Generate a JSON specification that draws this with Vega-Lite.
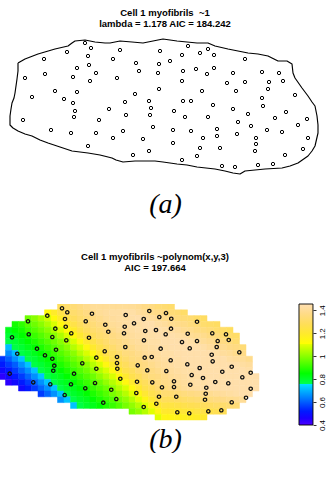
{
  "$schema": "https://vega.github.io/schema/vega-lite/v6.json",
  "padding": {"left": 0, "right": 0, "top": 7, "bottom": 0},
  "spacing": 34,
  "config": {
    "view": {"stroke": null},
    "font": "Liberation Sans",
    "title": {"font": "Liberation Sans", "fontSize": 9.5, "fontWeight": "bold", "lineHeight": 11, "color": "#000000", "anchor": "middle", "frame": "group"},
    "axis": {"grid": false}
  },
  "datasets": {
    "outline": [
      {"i":1,"x":8,"y":118},{"i":2,"x":15,"y":122},{"i":3,"x":28,"y":127},{"i":4,"x":45,"y":132},{"i":5,"x":58,"y":135},{"i":6,"x":62,"y":138},{"i":7,"x":65,"y":140},{"i":8,"x":75,"y":141},{"i":9,"x":85,"y":139},{"i":10,"x":95,"y":138},{"i":11,"x":100,"y":138},{"i":12,"x":110,"y":140},{"i":13,"x":122,"y":139},{"i":14,"x":133,"y":138},{"i":15,"x":143,"y":140},{"i":16,"x":153,"y":142},{"i":17,"x":160,"y":141},{"i":18,"x":167,"y":140},{"i":19,"x":177,"y":139},{"i":20,"x":187,"y":138},{"i":21,"x":198,"y":138},{"i":22,"x":205,"y":135},{"i":23,"x":218,"y":132},{"i":24,"x":228,"y":130},{"i":25,"x":238,"y":128},{"i":26,"x":248,"y":127},{"i":27,"x":258,"y":125},{"i":28,"x":268,"y":120},{"i":29,"x":277,"y":120},{"i":30,"x":282,"y":117},{"i":31,"x":283,"y":108},{"i":32,"x":285,"y":103},{"i":33,"x":292,"y":93},{"i":34,"x":298,"y":85},{"i":35,"x":302,"y":79},{"i":36,"x":305,"y":75},{"i":37,"x":307,"y":65},{"i":38,"x":308,"y":56},{"i":39,"x":308,"y":48},{"i":40,"x":305,"y":35},{"i":41,"x":302,"y":30},{"i":42,"x":298,"y":25},{"i":43,"x":288,"y":18},{"i":44,"x":280,"y":15},{"i":45,"x":272,"y":13},{"i":46,"x":255,"y":12},{"i":47,"x":245,"y":11},{"i":48,"x":235,"y":10},{"i":49,"x":230,"y":7},{"i":50,"x":223,"y":8},{"i":51,"x":215,"y":10},{"i":52,"x":205,"y":12},{"i":53,"x":196,"y":13},{"i":54,"x":187,"y":14},{"i":55,"x":177,"y":16},{"i":56,"x":167,"y":17},{"i":57,"x":160,"y":18},{"i":58,"x":153,"y":19},{"i":59,"x":145,"y":20},{"i":60,"x":137,"y":20},{"i":61,"x":125,"y":20},{"i":62,"x":113,"y":19},{"i":63,"x":106,"y":21},{"i":64,"x":102,"y":23},{"i":65,"x":90,"y":26},{"i":66,"x":78,"y":28},{"i":67,"x":70,"y":29},{"i":68,"x":62,"y":30},{"i":69,"x":50,"y":34},{"i":70,"x":38,"y":38},{"i":71,"x":30,"y":41},{"i":72,"x":22,"y":45},{"i":73,"x":15,"y":47},{"i":74,"x":8,"y":50},{"i":75,"x":3,"y":53},{"i":76,"x":0,"y":56},{"i":77,"x":0,"y":65},{"i":78,"x":1,"y":72},{"i":79,"x":2,"y":78},{"i":80,"x":4,"y":83},{"i":81,"x":5,"y":88},{"i":82,"x":6,"y":95},{"i":83,"x":7,"y":102},{"i":84,"x":8,"y":110},{"i":85,"x":8,"y":115},{"i":86,"x":8,"y":118}
    ],
    "fibrils_a": [
      {"x":75,"y":138},{"x":81,"y":133},{"x":57,"y":129},{"x":110,"y":131},{"x":150,"y":130},{"x":178,"y":135},{"x":198,"y":132},{"x":190,"y":128},{"x":204,"y":126},{"x":172,"y":126},{"x":78,"y":125},{"x":34,"y":122},{"x":103,"y":122},{"x":235,"y":122},{"x":160,"y":120},{"x":126,"y":118},{"x":149,"y":117},{"x":79,"y":116},{"x":67,"y":113},{"x":204,"y":113},{"x":186,"y":112},{"x":173,"y":110},{"x":129,"y":110},{"x":148,"y":108},{"x":35,"y":107},{"x":86,"y":108},{"x":197,"y":107},{"x":223,"y":108},{"x":252,"y":109},{"x":269,"y":108},{"x":15,"y":103},{"x":63,"y":104},{"x":107,"y":103},{"x":80,"y":100},{"x":172,"y":100},{"x":235,"y":99},{"x":217,"y":98},{"x":259,"y":99},{"x":273,"y":100},{"x":149,"y":92},{"x":45,"y":90},{"x":67,"y":89},{"x":226,"y":90},{"x":258,"y":92},{"x":125,"y":87},{"x":192,"y":90},{"x":22,"y":84},{"x":54,"y":82},{"x":285,"y":86},{"x":252,"y":83},{"x":63,"y":78},{"x":115,"y":79},{"x":139,"y":80},{"x":173,"y":80},{"x":181,"y":80},{"x":203,"y":76},{"x":253,"y":75},{"x":141,"y":73},{"x":99,"y":72},{"x":65,"y":70},{"x":223,"y":72},{"x":164,"y":70},{"x":276,"y":69},{"x":64,"y":64},{"x":116,"y":66},{"x":140,"y":66},{"x":238,"y":67},{"x":175,"y":64},{"x":198,"y":64},{"x":265,"y":63},{"x":13,"y":61},{"x":89,"y":61},{"x":297,"y":62},{"x":228,"y":59},{"x":288,"y":56},{"x":143,"y":54},{"x":241,"y":55},{"x":163,"y":51},{"x":181,"y":50},{"x":207,"y":52},{"x":41,"y":51},{"x":61,"y":48},{"x":86,"y":48},{"x":113,"y":50},{"x":257,"y":51},{"x":272,"y":49},{"x":207,"y":45},{"x":193,"y":43},{"x":103,"y":43},{"x":133,"y":42},{"x":298,"y":43},{"x":246,"y":43},{"x":163,"y":38},{"x":246,"y":37},{"x":78,"y":35},{"x":190,"y":33},{"x":210,"y":33},{"x":139,"y":30},{"x":245,"y":30},{"x":293,"y":32},{"x":275,"y":26},{"x":123,"y":26},{"x":187,"y":25},{"x":172,"y":21},{"x":212,"y":15},{"x":225,"y":14},{"x":248,"y":16},{"x":263,"y":17},{"x":227,"y":47}
    ],
    "fibrils_b": [
      {"col":9.77,"row":0.83},{"col":10.58,"row":1.52},{"col":7.51,"row":2.1},{"col":10.23,"row":2.67},{"col":4.54,"row":3.07},{"col":13.42,"row":3.07},{"col":8.74,"row":4.34},{"col":10.34,"row":4.0},{"col":11.2,"row":5.14},{"col":2.08,"row":5.83},{"col":4.65,"row":5.31},{"col":8.28,"row":5.78},{"col":10.43,"row":6.34},{"col":13.92,"row":5.9},{"col":5.92,"row":7.79},{"col":8.85,"row":7.97},{"col":2.89,"row":8.66},{"col":7.15,"row":8.93},{"col":8.28,"row":9.52},{"col":12.89,"row":10.31},{"col":8.58,"row":10.72},{"col":8.43,"row":11.59},{"col":11.62,"row":12.1},{"col":1.72,"row":12.1},{"col":5.35,"row":13.59},{"col":7.97,"row":13.93},{"col":11.15,"row":13.93},{"col":13.35,"row":14.62},{"col":10.18,"row":15.78},
      {"col":14.38,"row":1.76},{"col":19.57,"row":1.98},{"col":23.2,"row":1.29},{"col":25.77,"row":1.64},{"col":26.58,"row":2.62},{"col":24.74,"row":2.33},{"col":22.34,"row":2.67},{"col":16.43,"row":3.66},{"col":19.42,"row":4.0},{"col":20.85,"row":3.41},{"col":16.89,"row":4.86},{"col":19.31,"row":5.14},{"col":22.58,"row":4.74},{"col":24.23,"row":4.57},{"col":26.54,"row":4.34},{"col":25.72,"row":5.31},{"col":22.38,"row":6.34},{"col":19.51,"row":7.5},{"col":24.95,"row":7.79},{"col":16.34,"row":8.24},{"col":26.49,"row":9.79},{"col":15.05,"row":9.34},{"col":18.23,"row":9.22},{"col":22.49,"row":9.34},{"col":23.57,"row":9.22},{"col":18.23,"row":10.26},{"col":18.28,"row":11.24},{"col":21.42,"row":10.66},{"col":15.05,"row":11.24},{"col":22.89,"row":11.52},{"col":25.82,"row":11.64},{"col":18.74,"row":12.97},{"col":14.85,"row":13.71},{"col":21.31,"row":13.48},{"col":23.66,"row":13.59},{"col":27.0,"row":13.41},{"col":25.15,"row":14.45},{"col":27.0,"row":14.4},{"col":17.35,"row":14.86},{"col":21.2,"row":15.43},{"col":24.69,"row":16.07},{"col":27.35,"row":16.07},{"col":18.12,"row":16.47},{"col":16.12,"row":17.1},{"col":24.28,"row":17.28},{"col":22.34,"row":17.84},{"col":27.51,"row":18.76},
      {"col":30.54,"row":3.14},{"col":29.11,"row":5.21},{"col":32.89,"row":5.14},{"col":35.0,"row":5.31},{"col":28.23,"row":6.64},{"col":30.54,"row":6.47},{"col":33.72,"row":6.47},{"col":35.42,"row":6.29},{"col":29.42,"row":7.72},{"col":33.57,"row":7.5},{"col":37.05,"row":8.41},{"col":32.8,"row":8.83},{"col":32.95,"row":9.97},{"col":29.05,"row":10.48},{"col":30.95,"row":11.12},{"col":35.88,"row":10.9},{"col":34.43,"row":11.76},{"col":29.72,"row":12.33},{"col":31.46,"row":12.84},{"col":33.35,"row":13.53},{"col":35.35,"row":13.76},{"col":29.51,"row":14.0},{"col":37.51,"row":12.72},{"col":38.8,"row":11.93},{"col":31.97,"row":14.52},{"col":31.88,"row":15.55},{"col":38.8,"row":14.69},{"col":38.08,"row":16.24},{"col":31.77,"row":16.59},{"col":35.88,"row":17.03},{"col":29.35,"row":18.93},{"col":32.28,"row":18.59},{"col":34.28,"row":18.41}
    ],
    "surface": [
      {"col":9,"row":0,"z":1.29},{"col":10,"row":0,"z":1.32},{"col":11,"row":0,"z":1.34},{"col":12,"row":0,"z":1.36},{"col":13,"row":0,"z":1.38},{"col":14,"row":0,"z":1.4},{"col":15,"row":0,"z":1.4},{"col":16,"row":0,"z":1.4},{"col":17,"row":0,"z":1.4},{"col":18,"row":0,"z":1.4},{"col":19,"row":0,"z":1.4},{"col":20,"row":0,"z":1.4},{"col":21,"row":0,"z":1.39},{"col":22,"row":0,"z":1.37},{"col":23,"row":0,"z":1.36},{"col":24,"row":0,"z":1.34},{"col":25,"row":0,"z":1.33},{"col":26,"row":0,"z":1.32},
      {"col":7,"row":1,"z":1.13},{"col":8,"row":1,"z":1.19},{"col":9,"row":1,"z":1.25},{"col":10,"row":1,"z":1.29},{"col":11,"row":1,"z":1.32},{"col":12,"row":1,"z":1.34},{"col":13,"row":1,"z":1.36},{"col":14,"row":1,"z":1.38},{"col":15,"row":1,"z":1.4},{"col":16,"row":1,"z":1.41},{"col":17,"row":1,"z":1.42},{"col":18,"row":1,"z":1.42},{"col":19,"row":1,"z":1.43},{"col":20,"row":1,"z":1.43},{"col":21,"row":1,"z":1.41},{"col":22,"row":1,"z":1.4},{"col":23,"row":1,"z":1.38},{"col":24,"row":1,"z":1.37},{"col":25,"row":1,"z":1.36},{"col":26,"row":1,"z":1.34},{"col":27,"row":1,"z":1.33},{"col":28,"row":1,"z":1.31},
      {"col":4,"row":2,"z":0.97},{"col":5,"row":2,"z":1.0},{"col":6,"row":2,"z":1.04},{"col":7,"row":2,"z":1.08},{"col":8,"row":2,"z":1.13},{"col":9,"row":2,"z":1.19},{"col":10,"row":2,"z":1.25},{"col":11,"row":2,"z":1.29},{"col":12,"row":2,"z":1.32},{"col":13,"row":2,"z":1.34},{"col":14,"row":2,"z":1.36},{"col":15,"row":2,"z":1.38},{"col":16,"row":2,"z":1.4},{"col":17,"row":2,"z":1.41},{"col":18,"row":2,"z":1.42},{"col":19,"row":2,"z":1.42},{"col":20,"row":2,"z":1.43},{"col":21,"row":2,"z":1.44},{"col":22,"row":2,"z":1.42},{"col":23,"row":2,"z":1.41},{"col":24,"row":2,"z":1.4},{"col":25,"row":2,"z":1.38},{"col":26,"row":2,"z":1.37},{"col":27,"row":2,"z":1.35},{"col":28,"row":2,"z":1.34},{"col":29,"row":2,"z":1.33},{"col":30,"row":2,"z":1.31},{"col":31,"row":2,"z":1.3},
      {"col":2,"row":3,"z":0.87},{"col":3,"row":3,"z":0.9},{"col":4,"row":3,"z":0.94},{"col":5,"row":3,"z":0.97},{"col":6,"row":3,"z":1.0},{"col":7,"row":3,"z":1.04},{"col":8,"row":3,"z":1.09},{"col":9,"row":3,"z":1.13},{"col":10,"row":3,"z":1.19},{"col":11,"row":3,"z":1.25},{"col":12,"row":3,"z":1.29},{"col":13,"row":3,"z":1.32},{"col":14,"row":3,"z":1.34},{"col":15,"row":3,"z":1.36},{"col":16,"row":3,"z":1.38},{"col":17,"row":3,"z":1.4},{"col":18,"row":3,"z":1.41},{"col":19,"row":3,"z":1.42},{"col":20,"row":3,"z":1.43},{"col":21,"row":3,"z":1.43},{"col":22,"row":3,"z":1.44},{"col":23,"row":3,"z":1.44},{"col":24,"row":3,"z":1.42},{"col":25,"row":3,"z":1.41},{"col":26,"row":3,"z":1.39},{"col":27,"row":3,"z":1.38},{"col":28,"row":3,"z":1.37},{"col":29,"row":3,"z":1.35},{"col":30,"row":3,"z":1.34},{"col":31,"row":3,"z":1.32},{"col":32,"row":3,"z":1.31},{"col":33,"row":3,"z":1.3},
      {"col":1,"row":4,"z":0.82},{"col":2,"row":4,"z":0.85},{"col":3,"row":4,"z":0.87},{"col":4,"row":4,"z":0.91},{"col":5,"row":4,"z":0.94},{"col":6,"row":4,"z":0.97},{"col":7,"row":4,"z":1.0},{"col":8,"row":4,"z":1.04},{"col":9,"row":4,"z":1.09},{"col":10,"row":4,"z":1.13},{"col":11,"row":4,"z":1.19},{"col":12,"row":4,"z":1.25},{"col":13,"row":4,"z":1.29},{"col":14,"row":4,"z":1.32},{"col":15,"row":4,"z":1.34},{"col":16,"row":4,"z":1.36},{"col":17,"row":4,"z":1.38},{"col":18,"row":4,"z":1.4},{"col":19,"row":4,"z":1.41},{"col":20,"row":4,"z":1.42},{"col":21,"row":4,"z":1.43},{"col":22,"row":4,"z":1.43},{"col":23,"row":4,"z":1.44},{"col":24,"row":4,"z":1.44},{"col":25,"row":4,"z":1.43},{"col":26,"row":4,"z":1.42},{"col":27,"row":4,"z":1.41},{"col":28,"row":4,"z":1.39},{"col":29,"row":4,"z":1.38},{"col":30,"row":4,"z":1.36},{"col":31,"row":4,"z":1.35},{"col":32,"row":4,"z":1.34},{"col":33,"row":4,"z":1.32},{"col":34,"row":4,"z":1.31},{"col":35,"row":4,"z":1.29},
      {"col":1,"row":5,"z":0.79},{"col":2,"row":5,"z":0.82},{"col":3,"row":5,"z":0.85},{"col":4,"row":5,"z":0.87},{"col":5,"row":5,"z":0.91},{"col":6,"row":5,"z":0.94},{"col":7,"row":5,"z":0.97},{"col":8,"row":5,"z":1.0},{"col":9,"row":5,"z":1.04},{"col":10,"row":5,"z":1.09},{"col":11,"row":5,"z":1.13},{"col":12,"row":5,"z":1.2},{"col":13,"row":5,"z":1.25},{"col":14,"row":5,"z":1.29},{"col":15,"row":5,"z":1.32},{"col":16,"row":5,"z":1.34},{"col":17,"row":5,"z":1.36},{"col":18,"row":5,"z":1.38},{"col":19,"row":5,"z":1.4},{"col":20,"row":5,"z":1.41},{"col":21,"row":5,"z":1.42},{"col":22,"row":5,"z":1.43},{"col":23,"row":5,"z":1.43},{"col":24,"row":5,"z":1.44},{"col":25,"row":5,"z":1.44},{"col":26,"row":5,"z":1.44},{"col":27,"row":5,"z":1.43},{"col":28,"row":5,"z":1.42},{"col":29,"row":5,"z":1.4},{"col":30,"row":5,"z":1.39},{"col":31,"row":5,"z":1.38},{"col":32,"row":5,"z":1.36},{"col":33,"row":5,"z":1.35},{"col":34,"row":5,"z":1.33},{"col":35,"row":5,"z":1.32},{"col":36,"row":5,"z":1.31},
      {"col":1,"row":6,"z":0.77},{"col":2,"row":6,"z":0.79},{"col":3,"row":6,"z":0.82},{"col":4,"row":6,"z":0.85},{"col":5,"row":6,"z":0.88},{"col":6,"row":6,"z":0.91},{"col":7,"row":6,"z":0.94},{"col":8,"row":6,"z":0.97},{"col":9,"row":6,"z":1.0},{"col":10,"row":6,"z":1.04},{"col":11,"row":6,"z":1.09},{"col":12,"row":6,"z":1.14},{"col":13,"row":6,"z":1.2},{"col":14,"row":6,"z":1.25},{"col":15,"row":6,"z":1.29},{"col":16,"row":6,"z":1.32},{"col":17,"row":6,"z":1.35},{"col":18,"row":6,"z":1.36},{"col":19,"row":6,"z":1.38},{"col":20,"row":6,"z":1.4},{"col":21,"row":6,"z":1.41},{"col":22,"row":6,"z":1.42},{"col":23,"row":6,"z":1.43},{"col":24,"row":6,"z":1.43},{"col":25,"row":6,"z":1.44},{"col":26,"row":6,"z":1.44},{"col":27,"row":6,"z":1.44},{"col":28,"row":6,"z":1.44},{"col":29,"row":6,"z":1.43},{"col":30,"row":6,"z":1.42},{"col":31,"row":6,"z":1.4},{"col":32,"row":6,"z":1.39},{"col":33,"row":6,"z":1.37},{"col":34,"row":6,"z":1.36},{"col":35,"row":6,"z":1.35},{"col":36,"row":6,"z":1.33},
      {"col":1,"row":7,"z":0.71},{"col":2,"row":7,"z":0.77},{"col":3,"row":7,"z":0.79},{"col":4,"row":7,"z":0.82},{"col":5,"row":7,"z":0.85},{"col":6,"row":7,"z":0.88},{"col":7,"row":7,"z":0.91},{"col":8,"row":7,"z":0.94},{"col":9,"row":7,"z":0.97},{"col":10,"row":7,"z":1.0},{"col":11,"row":7,"z":1.05},{"col":12,"row":7,"z":1.09},{"col":13,"row":7,"z":1.14},{"col":14,"row":7,"z":1.2},{"col":15,"row":7,"z":1.25},{"col":16,"row":7,"z":1.29},{"col":17,"row":7,"z":1.32},{"col":18,"row":7,"z":1.35},{"col":19,"row":7,"z":1.36},{"col":20,"row":7,"z":1.38},{"col":21,"row":7,"z":1.4},{"col":22,"row":7,"z":1.41},{"col":23,"row":7,"z":1.42},{"col":24,"row":7,"z":1.43},{"col":25,"row":7,"z":1.43},{"col":26,"row":7,"z":1.44},{"col":27,"row":7,"z":1.44},{"col":28,"row":7,"z":1.44},{"col":29,"row":7,"z":1.44},{"col":30,"row":7,"z":1.44},{"col":31,"row":7,"z":1.43},{"col":32,"row":7,"z":1.41},{"col":33,"row":7,"z":1.4},{"col":34,"row":7,"z":1.39},{"col":35,"row":7,"z":1.37},{"col":36,"row":7,"z":1.36},{"col":37,"row":7,"z":1.34},
      {"col":1,"row":8,"z":0.65},{"col":2,"row":8,"z":0.71},{"col":3,"row":8,"z":0.77},{"col":4,"row":8,"z":0.79},{"col":5,"row":8,"z":0.82},{"col":6,"row":8,"z":0.85},{"col":7,"row":8,"z":0.88},{"col":8,"row":8,"z":0.91},{"col":9,"row":8,"z":0.94},{"col":10,"row":8,"z":0.97},{"col":11,"row":8,"z":1.0},{"col":12,"row":8,"z":1.05},{"col":13,"row":8,"z":1.09},{"col":14,"row":8,"z":1.14},{"col":15,"row":8,"z":1.2},{"col":16,"row":8,"z":1.26},{"col":17,"row":8,"z":1.29},{"col":18,"row":8,"z":1.32},{"col":19,"row":8,"z":1.35},{"col":20,"row":8,"z":1.36},{"col":21,"row":8,"z":1.38},{"col":22,"row":8,"z":1.4},{"col":23,"row":8,"z":1.41},{"col":24,"row":8,"z":1.42},{"col":25,"row":8,"z":1.43},{"col":26,"row":8,"z":1.43},{"col":27,"row":8,"z":1.44},{"col":28,"row":8,"z":1.44},{"col":29,"row":8,"z":1.44},{"col":30,"row":8,"z":1.44},{"col":31,"row":8,"z":1.44},{"col":32,"row":8,"z":1.44},{"col":33,"row":8,"z":1.43},{"col":34,"row":8,"z":1.41},{"col":35,"row":8,"z":1.4},{"col":36,"row":8,"z":1.38},{"col":37,"row":8,"z":1.37},
      {"col":0,"row":9,"z":0.55},{"col":1,"row":9,"z":0.6},{"col":2,"row":9,"z":0.66},{"col":3,"row":9,"z":0.72},{"col":4,"row":9,"z":0.77},{"col":5,"row":9,"z":0.79},{"col":6,"row":9,"z":0.82},{"col":7,"row":9,"z":0.85},{"col":8,"row":9,"z":0.88},{"col":9,"row":9,"z":0.91},{"col":10,"row":9,"z":0.94},{"col":11,"row":9,"z":0.97},{"col":12,"row":9,"z":1.0},{"col":13,"row":9,"z":1.05},{"col":14,"row":9,"z":1.09},{"col":15,"row":9,"z":1.14},{"col":16,"row":9,"z":1.2},{"col":17,"row":9,"z":1.26},{"col":18,"row":9,"z":1.29},{"col":19,"row":9,"z":1.32},{"col":20,"row":9,"z":1.35},{"col":21,"row":9,"z":1.36},{"col":22,"row":9,"z":1.38},{"col":23,"row":9,"z":1.4},{"col":24,"row":9,"z":1.41},{"col":25,"row":9,"z":1.42},{"col":26,"row":9,"z":1.43},{"col":27,"row":9,"z":1.43},{"col":28,"row":9,"z":1.44},{"col":29,"row":9,"z":1.44},{"col":30,"row":9,"z":1.44},{"col":31,"row":9,"z":1.44},{"col":32,"row":9,"z":1.44},{"col":33,"row":9,"z":1.44},{"col":34,"row":9,"z":1.44},{"col":35,"row":9,"z":1.42},{"col":36,"row":9,"z":1.41},{"col":37,"row":9,"z":1.4},{"col":38,"row":9,"z":1.38},
      {"col":0,"row":10,"z":0.52},{"col":1,"row":10,"z":0.56},{"col":2,"row":10,"z":0.6},{"col":3,"row":10,"z":0.66},{"col":4,"row":10,"z":0.72},{"col":5,"row":10,"z":0.77},{"col":6,"row":10,"z":0.79},{"col":7,"row":10,"z":0.82},{"col":8,"row":10,"z":0.85},{"col":9,"row":10,"z":0.88},{"col":10,"row":10,"z":0.91},{"col":11,"row":10,"z":0.94},{"col":12,"row":10,"z":0.97},{"col":13,"row":10,"z":1.0},{"col":14,"row":10,"z":1.05},{"col":15,"row":10,"z":1.09},{"col":16,"row":10,"z":1.14},{"col":17,"row":10,"z":1.2},{"col":18,"row":10,"z":1.26},{"col":19,"row":10,"z":1.29},{"col":20,"row":10,"z":1.33},{"col":21,"row":10,"z":1.35},{"col":22,"row":10,"z":1.36},{"col":23,"row":10,"z":1.38},{"col":24,"row":10,"z":1.4},{"col":25,"row":10,"z":1.41},{"col":26,"row":10,"z":1.42},{"col":27,"row":10,"z":1.43},{"col":28,"row":10,"z":1.43},{"col":29,"row":10,"z":1.44},{"col":30,"row":10,"z":1.44},{"col":31,"row":10,"z":1.44},{"col":32,"row":10,"z":1.44},{"col":33,"row":10,"z":1.44},{"col":34,"row":10,"z":1.44},{"col":35,"row":10,"z":1.44},{"col":36,"row":10,"z":1.44},{"col":37,"row":10,"z":1.42},{"col":38,"row":10,"z":1.41},
      {"col":0,"row":11,"z":0.48},{"col":1,"row":11,"z":0.52},{"col":2,"row":11,"z":0.56},{"col":3,"row":11,"z":0.61},{"col":4,"row":11,"z":0.66},{"col":5,"row":11,"z":0.72},{"col":6,"row":11,"z":0.77},{"col":7,"row":11,"z":0.8},{"col":8,"row":11,"z":0.82},{"col":9,"row":11,"z":0.85},{"col":10,"row":11,"z":0.88},{"col":11,"row":11,"z":0.91},{"col":12,"row":11,"z":0.94},{"col":13,"row":11,"z":0.97},{"col":14,"row":11,"z":1.01},{"col":15,"row":11,"z":1.05},{"col":16,"row":11,"z":1.09},{"col":17,"row":11,"z":1.14},{"col":18,"row":11,"z":1.2},{"col":19,"row":11,"z":1.26},{"col":20,"row":11,"z":1.29},{"col":21,"row":11,"z":1.33},{"col":22,"row":11,"z":1.35},{"col":23,"row":11,"z":1.36},{"col":24,"row":11,"z":1.38},{"col":25,"row":11,"z":1.4},{"col":26,"row":11,"z":1.41},{"col":27,"row":11,"z":1.42},{"col":28,"row":11,"z":1.43},{"col":29,"row":11,"z":1.43},{"col":30,"row":11,"z":1.44},{"col":31,"row":11,"z":1.44},{"col":32,"row":11,"z":1.44},{"col":33,"row":11,"z":1.44},{"col":34,"row":11,"z":1.44},{"col":35,"row":11,"z":1.44},{"col":36,"row":11,"z":1.44},{"col":37,"row":11,"z":1.44},{"col":38,"row":11,"z":1.43},
      {"col":0,"row":12,"z":0.44},{"col":1,"row":12,"z":0.48},{"col":2,"row":12,"z":0.52},{"col":3,"row":12,"z":0.56},{"col":4,"row":12,"z":0.61},{"col":5,"row":12,"z":0.66},{"col":6,"row":12,"z":0.72},{"col":7,"row":12,"z":0.77},{"col":8,"row":12,"z":0.8},{"col":9,"row":12,"z":0.82},{"col":10,"row":12,"z":0.85},{"col":11,"row":12,"z":0.88},{"col":12,"row":12,"z":0.91},{"col":13,"row":12,"z":0.94},{"col":14,"row":12,"z":0.97},{"col":15,"row":12,"z":1.01},{"col":16,"row":12,"z":1.05},{"col":17,"row":12,"z":1.09},{"col":18,"row":12,"z":1.14},{"col":19,"row":12,"z":1.2},{"col":20,"row":12,"z":1.26},{"col":21,"row":12,"z":1.29},{"col":22,"row":12,"z":1.33},{"col":23,"row":12,"z":1.35},{"col":24,"row":12,"z":1.36},{"col":25,"row":12,"z":1.38},{"col":26,"row":12,"z":1.4},{"col":27,"row":12,"z":1.41},{"col":28,"row":12,"z":1.42},{"col":29,"row":12,"z":1.43},{"col":30,"row":12,"z":1.43},{"col":31,"row":12,"z":1.44},{"col":32,"row":12,"z":1.44},{"col":33,"row":12,"z":1.44},{"col":34,"row":12,"z":1.44},{"col":35,"row":12,"z":1.44},{"col":36,"row":12,"z":1.44},{"col":37,"row":12,"z":1.44},{"col":38,"row":12,"z":1.44},{"col":39,"row":12,"z":1.44},
      {"col":1,"row":13,"z":0.44},{"col":2,"row":13,"z":0.48},{"col":3,"row":13,"z":0.52},{"col":4,"row":13,"z":0.56},{"col":5,"row":13,"z":0.61},{"col":6,"row":13,"z":0.66},{"col":7,"row":13,"z":0.72},{"col":8,"row":13,"z":0.77},{"col":9,"row":13,"z":0.8},{"col":10,"row":13,"z":0.82},{"col":11,"row":13,"z":0.85},{"col":12,"row":13,"z":0.88},{"col":13,"row":13,"z":0.91},{"col":14,"row":13,"z":0.94},{"col":15,"row":13,"z":0.97},{"col":16,"row":13,"z":1.01},{"col":17,"row":13,"z":1.05},{"col":18,"row":13,"z":1.09},{"col":19,"row":13,"z":1.14},{"col":20,"row":13,"z":1.2},{"col":21,"row":13,"z":1.26},{"col":22,"row":13,"z":1.29},{"col":23,"row":13,"z":1.33},{"col":24,"row":13,"z":1.35},{"col":25,"row":13,"z":1.37},{"col":26,"row":13,"z":1.38},{"col":27,"row":13,"z":1.4},{"col":28,"row":13,"z":1.41},{"col":29,"row":13,"z":1.42},{"col":30,"row":13,"z":1.43},{"col":31,"row":13,"z":1.43},{"col":32,"row":13,"z":1.44},{"col":33,"row":13,"z":1.44},{"col":34,"row":13,"z":1.44},{"col":35,"row":13,"z":1.44},{"col":36,"row":13,"z":1.44},{"col":37,"row":13,"z":1.44},{"col":38,"row":13,"z":1.44},{"col":39,"row":13,"z":1.44},
      {"col":3,"row":14,"z":0.48},{"col":4,"row":14,"z":0.52},{"col":5,"row":14,"z":0.56},{"col":6,"row":14,"z":0.61},{"col":7,"row":14,"z":0.66},{"col":8,"row":14,"z":0.72},{"col":9,"row":14,"z":0.77},{"col":10,"row":14,"z":0.8},{"col":11,"row":14,"z":0.82},{"col":12,"row":14,"z":0.85},{"col":13,"row":14,"z":0.88},{"col":14,"row":14,"z":0.91},{"col":15,"row":14,"z":0.94},{"col":16,"row":14,"z":0.97},{"col":17,"row":14,"z":1.01},{"col":18,"row":14,"z":1.05},{"col":19,"row":14,"z":1.09},{"col":20,"row":14,"z":1.14},{"col":21,"row":14,"z":1.2},{"col":22,"row":14,"z":1.26},{"col":23,"row":14,"z":1.29},{"col":24,"row":14,"z":1.33},{"col":25,"row":14,"z":1.35},{"col":26,"row":14,"z":1.37},{"col":27,"row":14,"z":1.38},{"col":28,"row":14,"z":1.4},{"col":29,"row":14,"z":1.41},{"col":30,"row":14,"z":1.42},{"col":31,"row":14,"z":1.43},{"col":32,"row":14,"z":1.44},{"col":33,"row":14,"z":1.44},{"col":34,"row":14,"z":1.44},{"col":35,"row":14,"z":1.44},{"col":36,"row":14,"z":1.44},{"col":37,"row":14,"z":1.44},{"col":38,"row":14,"z":1.44},{"col":39,"row":14,"z":1.44},
      {"col":6,"row":15,"z":0.56},{"col":7,"row":15,"z":0.61},{"col":8,"row":15,"z":0.66},{"col":9,"row":15,"z":0.72},{"col":10,"row":15,"z":0.77},{"col":11,"row":15,"z":0.8},{"col":12,"row":15,"z":0.82},{"col":13,"row":15,"z":0.85},{"col":14,"row":15,"z":0.88},{"col":15,"row":15,"z":0.91},{"col":16,"row":15,"z":0.94},{"col":17,"row":15,"z":0.98},{"col":18,"row":15,"z":1.01},{"col":19,"row":15,"z":1.05},{"col":20,"row":15,"z":1.1},{"col":21,"row":15,"z":1.15},{"col":22,"row":15,"z":1.21},{"col":23,"row":15,"z":1.26},{"col":24,"row":15,"z":1.29},{"col":25,"row":15,"z":1.33},{"col":26,"row":15,"z":1.33},{"col":27,"row":15,"z":1.34},{"col":28,"row":15,"z":1.35},{"col":29,"row":15,"z":1.36},{"col":30,"row":15,"z":1.37},{"col":31,"row":15,"z":1.38},{"col":32,"row":15,"z":1.39},{"col":33,"row":15,"z":1.4},{"col":34,"row":15,"z":1.41},{"col":35,"row":15,"z":1.42},{"col":36,"row":15,"z":1.43},{"col":37,"row":15,"z":1.44},{"col":38,"row":15,"z":1.44},
      {"col":9,"row":16,"z":0.66},{"col":10,"row":16,"z":0.72},{"col":11,"row":16,"z":0.77},{"col":12,"row":16,"z":0.8},{"col":13,"row":16,"z":0.82},{"col":14,"row":16,"z":0.85},{"col":15,"row":16,"z":0.88},{"col":16,"row":16,"z":0.91},{"col":17,"row":16,"z":0.94},{"col":18,"row":16,"z":0.98},{"col":19,"row":16,"z":1.01},{"col":20,"row":16,"z":1.05},{"col":21,"row":16,"z":1.1},{"col":22,"row":16,"z":1.15},{"col":23,"row":16,"z":1.21},{"col":24,"row":16,"z":1.26},{"col":25,"row":16,"z":1.29},{"col":26,"row":16,"z":1.29},{"col":27,"row":16,"z":1.3},{"col":28,"row":16,"z":1.31},{"col":29,"row":16,"z":1.32},{"col":30,"row":16,"z":1.33},{"col":31,"row":16,"z":1.34},{"col":32,"row":16,"z":1.35},{"col":33,"row":16,"z":1.36},{"col":34,"row":16,"z":1.37},{"col":35,"row":16,"z":1.38},{"col":36,"row":16,"z":1.39},{"col":37,"row":16,"z":1.4},
      {"col":11,"row":17,"z":0.72},{"col":12,"row":17,"z":0.77},{"col":13,"row":17,"z":0.8},{"col":14,"row":17,"z":0.82},{"col":15,"row":17,"z":0.85},{"col":16,"row":17,"z":0.88},{"col":17,"row":17,"z":0.91},{"col":18,"row":17,"z":0.94},{"col":19,"row":17,"z":0.98},{"col":20,"row":17,"z":1.01},{"col":21,"row":17,"z":1.05},{"col":22,"row":17,"z":1.1},{"col":23,"row":17,"z":1.15},{"col":24,"row":17,"z":1.21},{"col":25,"row":17,"z":1.24},{"col":26,"row":17,"z":1.24},{"col":27,"row":17,"z":1.25},{"col":28,"row":17,"z":1.26},{"col":29,"row":17,"z":1.27},{"col":30,"row":17,"z":1.28},{"col":31,"row":17,"z":1.29},{"col":32,"row":17,"z":1.3},{"col":33,"row":17,"z":1.31},{"col":34,"row":17,"z":1.32},{"col":35,"row":17,"z":1.33},{"col":36,"row":17,"z":1.34},
      {"col":20,"row":18,"z":0.98},{"col":21,"row":18,"z":1.01},{"col":22,"row":18,"z":1.05},{"col":23,"row":18,"z":1.1},{"col":24,"row":18,"z":1.15},{"col":25,"row":18,"z":1.2},{"col":26,"row":18,"z":1.2},{"col":27,"row":18,"z":1.21},{"col":28,"row":18,"z":1.22},{"col":29,"row":18,"z":1.23},{"col":30,"row":18,"z":1.24},{"col":31,"row":18,"z":1.25},{"col":32,"row":18,"z":1.26},{"col":33,"row":18,"z":1.27},{"col":34,"row":18,"z":1.28},
      {"col":24,"row":19,"z":1.1},{"col":25,"row":19,"z":1.15},{"col":26,"row":19,"z":1.15},{"col":27,"row":19,"z":1.16},{"col":28,"row":19,"z":1.17},{"col":29,"row":19,"z":1.18},{"col":30,"row":19,"z":1.19},{"col":31,"row":19,"z":1.2}
    ]
  },
  "vconcat": [
    {
      "width": 330,
      "height": 155,
      "title": {"text": ["Cell 1 myofibrils \u00a0~1", "lambda = 1.178 AIC = 184.242"], "offset": 3},
      "layer": [
        {
          "data": {"name": "outline"},
          "mark": {"type": "line", "color": "#000000", "strokeWidth": 1.15, "strokeJoin": "round"},
          "encoding": {
            "x": {"field": "x", "type": "quantitative", "scale": {"domain": [-10, 320], "nice": false, "zero": false},
                  "axis": {"title": "(a)", "domain": false, "ticks": false, "labels": false, "grid": false, "titleFont": "Liberation Serif", "titleFontStyle": "italic", "titleFontWeight": "normal", "titleFontSize": 28, "titleColor": "#000000", "titlePadding": 4}},
            "y": {"field": "y", "type": "quantitative", "scale": {"domain": [-5, 150], "nice": false, "zero": false}, "axis": null},
            "order": {"field": "i", "type": "quantitative"}
          }
        },
        {
          "data": {"name": "fibrils_a"},
          "mark": {"type": "point", "shape": "circle", "filled": false, "size": 11, "strokeWidth": 1, "color": "#000000", "opacity": 1},
          "encoding": {
            "x": {"field": "x", "type": "quantitative", "scale": {"domain": [-10, 320], "nice": false, "zero": false},
                  "axis": {"title": "(a)", "domain": false, "ticks": false, "labels": false, "grid": false, "titleFont": "Liberation Serif", "titleFontStyle": "italic", "titleFontWeight": "normal", "titleFontSize": 28, "titleColor": "#000000", "titlePadding": 4}},
            "y": {"field": "y", "type": "quantitative", "scale": {"domain": [-5, 150], "nice": false, "zero": false}, "axis": null}
          }
        }
      ]
    },
    {
      "width": 330,
      "height": 121,
      "title": {"text": ["Cell 1 myofibrils ~polynom(x,y,3)", "AIC = 197.664"], "offset": 31, "dx": -10},
      "resolve": {"scale": {"y": "independent"}, "axis": {"y": "independent"}},
      "layer": [
        {
          "data": {"name": "surface"},
          "mark": {"type": "rect", "clip": true, "binSpacing": 0, "strokeWidth": 0.5},
          "encoding": {
            "x": {"field": "col", "type": "quantitative", "bin": {"binned": true, "step": 1},
                  "scale": {"domain": [0.2308, 51.0], "nice": false, "zero": false},
                  "axis": {"title": "(b)", "domain": false, "ticks": false, "labels": false, "grid": false, "titleFont": "Liberation Serif", "titleFontStyle": "italic", "titleFontWeight": "normal", "titleFontSize": 28, "titleColor": "#000000", "titlePadding": 0}},
            "y": {"field": "row", "type": "quantitative", "bin": {"binned": true, "step": 1},
                  "scale": {"domain": [0.0862, 20.948], "reverse": true, "nice": false, "zero": false}, "axis": null},
            "color": {"field": "z", "type": "quantitative", "legend": null,
                      "scale": {"type": "linear", "interpolate": "rgb", "nice": false, "zero": false, "clamp": true,
                                "domain": [0.40, 0.46, 0.52, 0.58, 0.64, 0.70, 0.7599, 0.7601, 0.85, 0.93, 1.01, 1.1049, 1.1051, 1.20, 1.28, 1.37, 1.455],
                                "range": ["#4c00ff", "#1a00ff", "#001aff", "#004cff", "#0080ff", "#00b3ff", "#00e6ff", "#00ff4d", "#00ff00", "#4aff00", "#93ff00", "#e6ff00", "#ffff00", "#ffe92f", "#ffde58", "#ffdb87", "#ffe0b3"]}},
            "stroke": {"field": "z", "type": "quantitative", "legend": null,
                      "scale": {"type": "linear", "interpolate": "rgb", "nice": false, "zero": false, "clamp": true,
                                "domain": [0.40, 0.46, 0.52, 0.58, 0.64, 0.70, 0.7599, 0.7601, 0.85, 0.93, 1.01, 1.1049, 1.1051, 1.20, 1.28, 1.37, 1.455],
                                "range": ["#4c00ff", "#1a00ff", "#001aff", "#004cff", "#0080ff", "#00b3ff", "#00e6ff", "#00ff4d", "#00ff00", "#4aff00", "#93ff00", "#e6ff00", "#ffff00", "#ffe92f", "#ffde58", "#ffdb87", "#ffe0b3"]}}
          }
        },
        {
          "data": {"name": "fibrils_b"},
          "mark": {"type": "point", "shape": "circle", "filled": false, "size": 11, "strokeWidth": 1.3, "color": "#111111", "opacity": 1},
          "encoding": {
            "x": {"field": "col", "type": "quantitative",
                  "scale": {"domain": [0.2308, 51.0], "nice": false, "zero": false},
                  "axis": {"title": "(b)", "domain": false, "ticks": false, "labels": false, "grid": false, "titleFont": "Liberation Serif", "titleFontStyle": "italic", "titleFontWeight": "normal", "titleFontSize": 28, "titleColor": "#000000", "titlePadding": 0}},
            "y": {"field": "row", "type": "quantitative",
                  "scale": {"domain": [0.0862, 20.948], "reverse": true, "nice": false, "zero": false}, "axis": null}
          }
        },
        {
          "data": {"values": [{}]},
          "mark": {"type": "rect", "stroke": "#000000", "strokeWidth": 0.9,
                   "fill": {"gradient": "linear", "x1": 0, "y1": 1, "x2": 0, "y2": 0, "stops": [
                     {"offset": 0, "color": "#4c00ff"},
                     {"offset": 0.0569, "color": "#1a00ff"},
                     {"offset": 0.1137, "color": "#001aff"},
                     {"offset": 0.1706, "color": "#004cff"},
                     {"offset": 0.2275, "color": "#0080ff"},
                     {"offset": 0.2844, "color": "#00b3ff"},
                     {"offset": 0.3412, "color": "#00e6ff"},
                     {"offset": 0.3412, "color": "#00ff4d"},
                     {"offset": 0.4265, "color": "#00ff00"},
                     {"offset": 0.5024, "color": "#4aff00"},
                     {"offset": 0.5782, "color": "#93ff00"},
                     {"offset": 0.6682, "color": "#e6ff00"},
                     {"offset": 0.6682, "color": "#ffff00"},
                     {"offset": 0.7583, "color": "#ffe92f"},
                     {"offset": 0.8341, "color": "#ffde58"},
                     {"offset": 0.9194, "color": "#ffdb87"},
                     {"offset": 1, "color": "#ffe0b3"}]}},
          "encoding": {
            "x": {"datum": 46.23, "type": "quantitative",
                  "scale": {"domain": [0.2308, 51.0], "nice": false, "zero": false},
                  "axis": {"title": "(b)", "domain": false, "ticks": false, "labels": false, "grid": false, "titleFont": "Liberation Serif", "titleFontStyle": "italic", "titleFontWeight": "normal", "titleFontSize": 28, "titleColor": "#000000", "titlePadding": 0}},
            "x2": {"datum": 48.38},
            "y": {"datum": 0.40, "type": "quantitative",
                  "scale": {"domain": [0.40, 1.455], "nice": false, "zero": false},
                  "axis": {"orient": "right", "offset": -17, "values": [0.4, 0.6, 0.8, 1, 1.2, 1.4], "format": "~g", "title": null, "domain": false, "grid": false, "ticks": true, "tickSize": 3, "tickColor": "#000000", "tickWidth": 0.8, "labelAngle": -90, "labelFontSize": 8, "labelFont": "Liberation Sans", "labelColor": "#000000", "labelPadding": 2, "labelOverlap": false, "labelFlush": false}},
            "y2": {"datum": 1.455}
          }
        }
      ]
    }
  ]
}
